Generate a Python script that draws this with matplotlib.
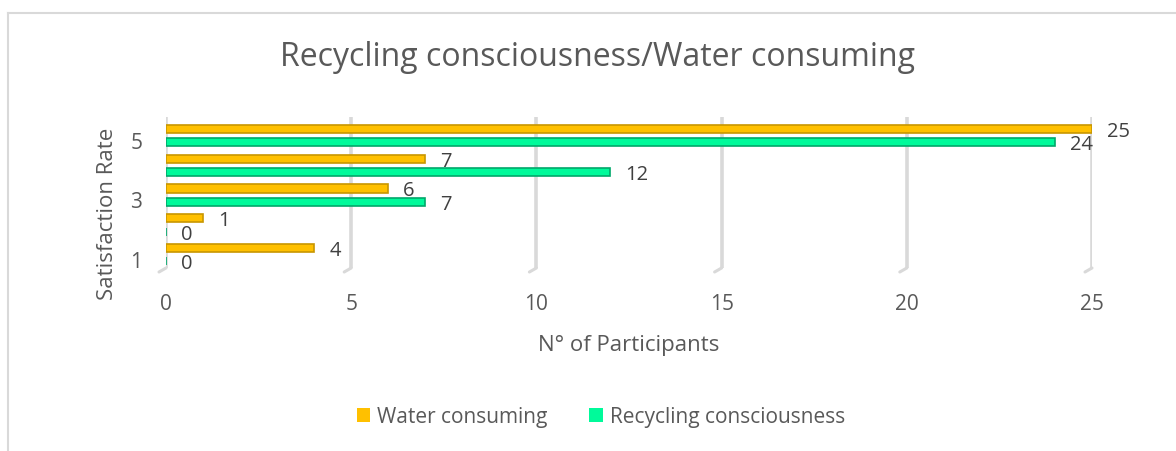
import numpy as np
import matplotlib
matplotlib.use("Agg")
import matplotlib.pyplot as plt
from matplotlib.lines import Line2D
from matplotlib.patches import Patch
import matplotlib.transforms as mtransforms

plt.rcParams['font.family'] = ['Open Sans', 'DejaVu Sans']

# Datos
rates = [1, 2, 3, 4, 5]
water = [4, 1, 6, 7, 25]
recycling = [0, 0, 7, 12, 24]
ytick_labels = ['1', '', '3', '', '5']
xticks = [0, 5, 10, 15, 20, 25]

c_water = '#FFC000'
c_water_edge = '#C89600'
c_recyc = '#00FA9A'
c_recyc_edge = '#00A86B'
grey_txt = '#595959'
grid_c = '#D9D9D9'

fig = plt.figure(figsize=(11.76, 4.51), dpi=100)
ax = fig.add_axes([166 / 1176, (451 - 268) / 451, 926 / 1176, 151 / 451])

y = np.arange(len(rates))
off = 0.225
h = 0.27

# Rejilla con "pie" en perspectiva
for xt in xticks:
    ax.axvline(xt, color=grid_c, lw=2.6, zorder=0)
    ax.annotate('', xy=(xt, -0.45), xytext=(-7, -4), textcoords='offset pixels',
                arrowprops=dict(arrowstyle='-', color=grid_c, lw=2.2, shrinkA=0, shrinkB=0),
                annotation_clip=False)

ax.barh(y + off, water, height=h, color=c_water, edgecolor=c_water_edge, lw=1.2, zorder=3)
ax.barh(y - off, recycling, height=h, color=c_recyc, edgecolor=c_recyc_edge, lw=1.2, zorder=3)

for yy, v in zip(y + off, water):
    ax.annotate(str(v), xy=(v, yy), xytext=(15, -3), textcoords='offset pixels',
                ha='left', va='center', fontsize=14.5, color='#404040', annotation_clip=False)
for yy, v in zip(y - off, recycling):
    ax.annotate(str(v), xy=(v, yy), xytext=(15, -3), textcoords='offset pixels',
                ha='left', va='center', fontsize=14.5, color='#404040', annotation_clip=False)

ax.set_xlim(0, 25)
ax.set_ylim(-0.45, 4.63)
ax.set_xticks(xticks)
ax.set_yticks(y)
ax.set_yticklabels(ytick_labels)
ax.tick_params(axis='both', length=0, labelsize=15, labelcolor=grey_txt)
ax.tick_params(axis='y', pad=17)
ax.tick_params(axis='x', pad=19)
shift = mtransforms.ScaledTranslation(0, -5 / 100, fig.dpi_scale_trans)
for lab in ax.get_yticklabels():
    lab.set_transform(lab.get_transform() + shift)
for s in ax.spines.values():
    s.set_visible(False)

ax.set_xlabel('N° of Participants', fontsize=16, color=grey_txt, labelpad=14)
ax.set_ylabel('Satisfaction Rate', fontsize=16, color=grey_txt)
ax.yaxis.set_label_coords(-0.052, 0.36)

fig.text(597 / 1176, 1 - 58 / 451, 'Recycling consciousness/Water consuming',
         ha='center', va='center', fontsize=23, color=grey_txt)

handles = [Patch(facecolor=c_water, label='Water consuming'),
           Patch(facecolor=c_recyc, label='Recycling consciousness')]
fig.legend(handles=handles, loc='center', bbox_to_anchor=(601 / 1176, 1 - 417 / 451),
           ncol=2, frameon=False, fontsize=15, labelcolor=grey_txt,
           handlelength=0.65, handleheight=0.65, handletextpad=0.35, columnspacing=2.0)

# Marco
fig.add_artist(Line2D([8 / 1176, 1], [1 - 13 / 451, 1 - 13 / 451], color=grid_c, lw=1.5))
fig.add_artist(Line2D([8 / 1176, 8 / 1176], [0, 1 - 13 / 451], color=grid_c, lw=1.5))

fig.savefig('out.png', dpi=100)
